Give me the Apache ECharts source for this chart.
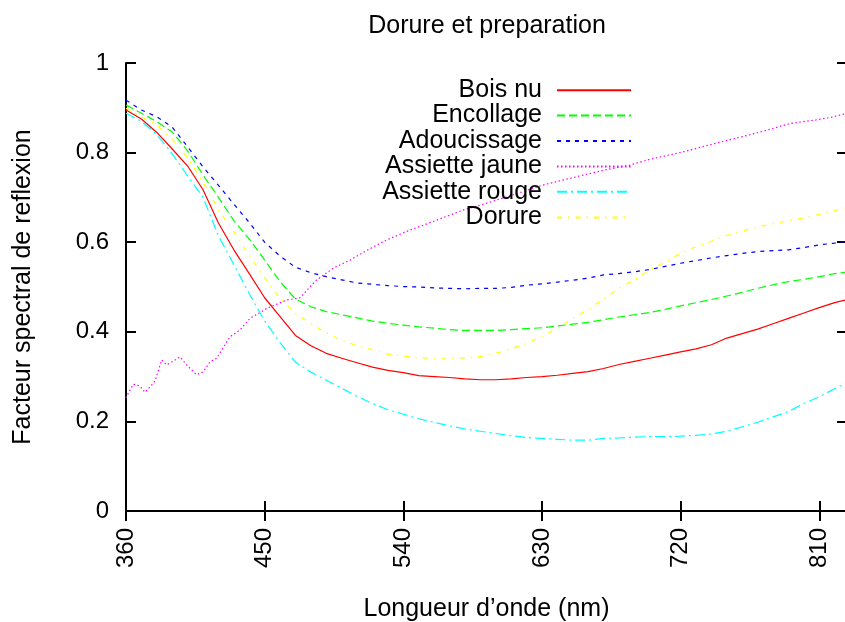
<!DOCTYPE html>
<html>
<head>
<meta charset="utf-8">
<script src="https://cdn.jsdelivr.net/npm/echarts@6/dist/echarts.min.js"></script>
<style>html,body{margin:0;padding:0;background:#fff}#c{width:845px;height:622px}</style>
</head>
<body>
<div id="c"></div>
<script>
const chartTitle = 'Dorure et preparation';
const xTitle = 'Longueur d\u2019onde (nm)';
const yTitle = 'Facteur spectral de reflexion';
const seriesNames = ['Bois nu', 'Encollage', 'Adoucissage', 'Assiette jaune', 'Assiette rouge', 'Dorure'];
const xTicks = [360, 450, 540, 630, 720, 810];
const yTicks = [0, 0.2, 0.4, 0.6, 0.8, 1];

const wavelengths = [360,370,380,390,400,410,420,430,440,450,460,470,480,490,500,510,520,530,540,550,560,570,580,590,600,610,620,630,640,650,660,670,680,690,700,710,720,730,740,750,760,770,780,790,800,810,820,828];

const boisNu = [0.895,0.875,0.845,0.808,0.770,0.717,0.643,0.583,0.530,0.476,0.434,0.392,0.369,0.352,0.341,0.331,0.321,0.314,0.309,0.302,0.300,0.298,0.295,0.293,0.293,0.295,0.298,0.300,0.303,0.307,0.311,0.318,0.327,0.334,0.341,0.348,0.355,0.362,0.371,0.386,0.396,0.406,0.418,0.430,0.442,0.454,0.465,0.472];

const encollage = [0.906,0.888,0.869,0.846,0.804,0.750,0.700,0.648,0.607,0.560,0.512,0.473,0.456,0.445,0.438,0.431,0.424,0.419,0.415,0.411,0.408,0.405,0.403,0.403,0.403,0.405,0.407,0.409,0.413,0.417,0.421,0.427,0.433,0.438,0.443,0.450,0.458,0.465,0.472,0.480,0.488,0.497,0.505,0.512,0.517,0.523,0.530,0.533];

const adoucissage = [0.917,0.895,0.880,0.857,0.813,0.768,0.727,0.685,0.644,0.600,0.569,0.544,0.532,0.523,0.516,0.509,0.506,0.503,0.501,0.500,0.498,0.497,0.496,0.497,0.497,0.499,0.504,0.507,0.511,0.515,0.520,0.527,0.530,0.534,0.539,0.546,0.553,0.559,0.565,0.570,0.575,0.579,0.581,0.583,0.588,0.594,0.598,0.602];

const rougeVals = [0.888,0.870,0.840,0.797,0.748,0.700,0.614,0.550,0.485,0.424,0.376,0.332,0.310,0.292,0.274,0.256,0.240,0.226,0.216,0.206,0.198,0.190,0.183,0.178,0.173,0.168,0.164,0.162,0.160,0.158,0.158,0.162,0.163,0.165,0.166,0.166,0.167,0.169,0.172,0.178,0.188,0.198,0.210,0.222,0.240,0.255,0.273,0.287];

const dorure = [0.899,0.880,0.862,0.830,0.789,0.734,0.673,0.623,0.570,0.521,0.474,0.441,0.418,0.398,0.381,0.369,0.360,0.350,0.346,0.342,0.341,0.341,0.342,0.345,0.352,0.362,0.374,0.390,0.408,0.430,0.450,0.473,0.497,0.516,0.538,0.556,0.575,0.590,0.602,0.615,0.625,0.634,0.641,0.648,0.654,0.662,0.671,0.677];

const jauneWl = [360,361.5,364.7,369,372.3,375.6,378.8,383.2,386.4,391,395,399.4,405.9,410.2,414.5,418.9,427.5,434,440.5,451.3,464.3,472.9,483.8,494.6,505.4,517,529.2,544.3,560,579,593,607,631,657,672,687,700,722,743,764,776,791,808,818,828];
const jauneVals = [0.252,0.263,0.283,0.279,0.265,0.277,0.290,0.337,0.326,0.335,0.344,0.326,0.304,0.311,0.333,0.341,0.389,0.404,0.430,0.452,0.471,0.476,0.516,0.542,0.560,0.583,0.605,0.627,0.647,0.672,0.686,0.701,0.728,0.750,0.762,0.772,0.785,0.802,0.821,0.839,0.850,0.865,0.873,0.879,0.888];

const font = 'Liberation Sans, Arial, sans-serif';
const pairs = (xs, ys) => xs.map((x, i) => [x, ys[i]]);

const styles = [
  {color: '#ff0000', type: 'solid'},
  {color: '#00ff00', type: [8, 4]},
  {color: '#0000ff', type: [4, 5]},
  {color: '#ff00ff', type: [1.5, 2.5]},
  {color: '#00ffff', type: [10, 4, 2, 4]},
  {color: '#ffff00', type: [5, 6, 1.5, 6]}
];
const seriesData = [
  pairs(wavelengths, boisNu),
  pairs(wavelengths, encollage),
  pairs(wavelengths, adoucissage),
  pairs(jauneWl, jauneVals),
  pairs(wavelengths, rougeVals),
  pairs(wavelengths, dorure)
];

const legendRowsTop = [86.7, 111.9, 137.4, 163, 188.2, 214];
const legends = seriesNames.map((n, i) => ({
  data: [n],
  right: 213,
  top: legendRowsTop[i] - 9,
  padding: 0,
  align: 'right',
  itemWidth: 74,
  itemHeight: 28,
  selectedMode: false,
  itemStyle: {opacity: 0},
  textStyle: {fontFamily: font, fontSize: 25, color: '#000', padding: [0, 10, 0, 0]}
}));

const axisLineStyle = {color: '#000', width: 2};
const chart = echarts.init(document.getElementById('c'), null, {renderer: 'canvas'});
chart.setOption({
  animation: false,
  backgroundColor: '#fff',
  title: {
    text: chartTitle, left: 482, top: 9, textAlign: 'center',
    textStyle: {fontFamily: font, fontSize: 25, fontWeight: 'normal', color: '#000'}
  },
  legend: legends,
  grid: {left: 126, top: 63, right: -2, bottom: 111, containLabel: false, outerBoundsMode: 'none'},
  xAxis: [{
    type: 'value', min: 360, max: 828, interval: 90, position: 'bottom',
    name: xTitle, nameLocation: 'middle', nameGap: 86,
    nameTextStyle: {fontFamily: font, fontSize: 25, color: '#000'},
    axisLine: {show: true, lineStyle: axisLineStyle},
    axisTick: {show: true, inside: true, length: 10, lineStyle: axisLineStyle},
    axisLabel: {
      rotate: 90, margin: 17, fontFamily: font, fontSize: 24, color: '#000',
      showMaxLabel: false,
      formatter: v => xTicks.includes(v) ? String(v) : ''
    },
    splitLine: {show: false}
  }, {
    type: 'value', min: 360, max: 828, interval: 90, position: 'top',
    axisLine: {show: true, lineStyle: axisLineStyle},
    axisTick: {show: true, inside: true, length: 10, lineStyle: axisLineStyle},
    axisLabel: {show: false},
    splitLine: {show: false}
  }],
  yAxis: [{
    type: 'value', min: 0, max: 1, interval: 0.2, position: 'left',
    name: yTitle, nameLocation: 'middle', nameGap: 90,
    nameTextStyle: {fontFamily: font, fontSize: 25, color: '#000'},
    axisLine: {show: true, lineStyle: axisLineStyle},
    axisTick: {show: true, inside: true, length: 10, lineStyle: axisLineStyle},
    axisLabel: {
      margin: 17, fontFamily: font, fontSize: 24, color: '#000',
      formatter: v => {
        const t = yTicks.find(y => Math.abs(y - v) < 1e-9);
        return t === undefined ? '' : String(t);
      }
    },
    splitLine: {show: false}
  }, {
    type: 'value', min: 0, max: 1, interval: 0.2, position: 'right',
    axisLine: {show: false},
    axisTick: {show: true, inside: true, length: 10, lineStyle: axisLineStyle},
    axisLabel: {show: false},
    splitLine: {show: false}
  }],
  series: seriesNames.map((n, i) => ({
    name: n,
    type: 'line',
    xAxisIndex: 0,
    yAxisIndex: 0,
    data: seriesData[i],
    symbol: 'none',
    showSymbol: false,
    smooth: false,
    lineStyle: {color: styles[i].color, width: 1.2, type: styles[i].type},
    itemStyle: {color: styles[i].color},
    z: 2
  }))
});
</script>
</body>
</html>
